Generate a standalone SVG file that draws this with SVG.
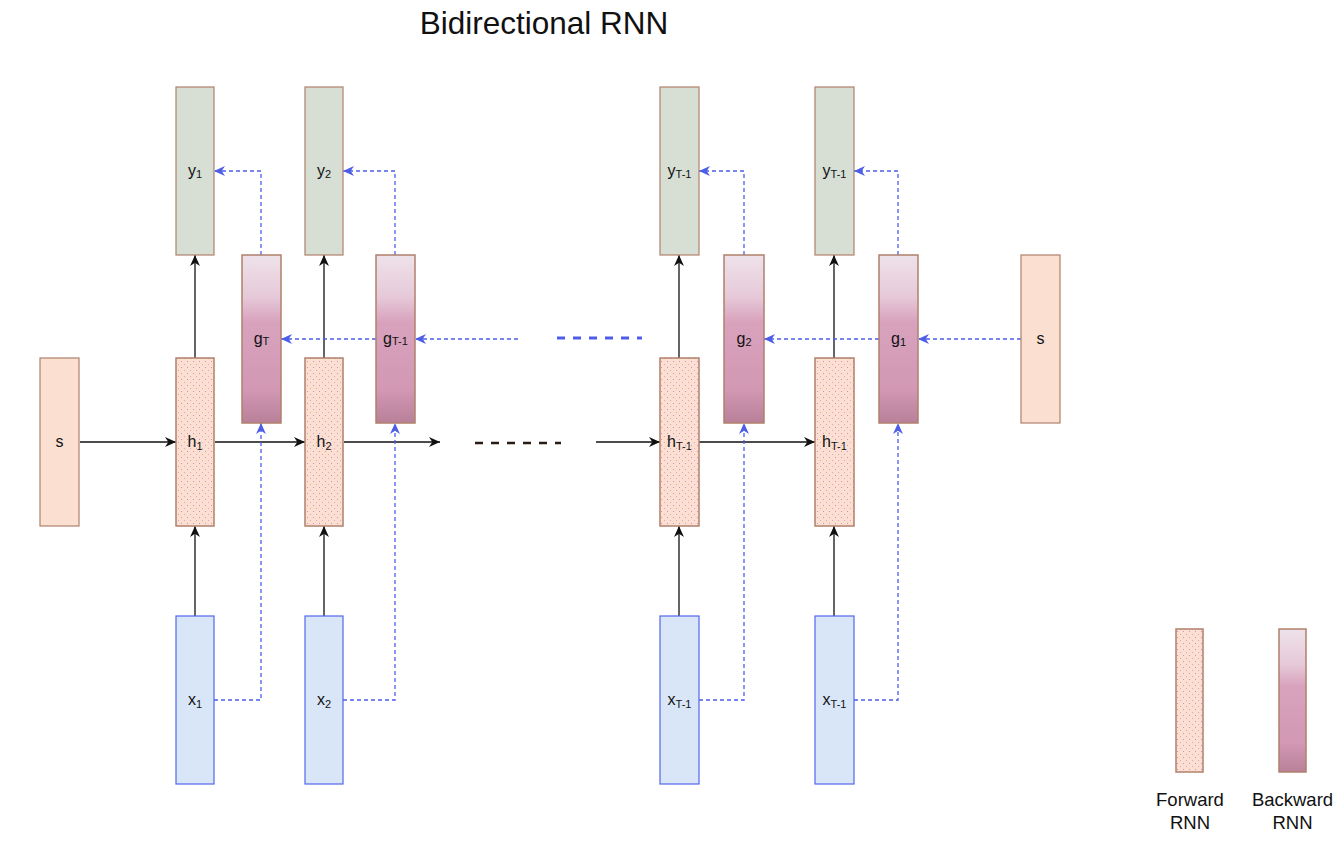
<svg xmlns="http://www.w3.org/2000/svg" width="1344" height="843" viewBox="0 0 1344 843">
<defs>
<style>
text{font-family:"Liberation Sans",Arial,sans-serif;fill:#111}
.lbl{font-size:16px;text-anchor:middle}
.sub{font-size:11px}
.leg{font-size:18.5px;text-anchor:middle}
.ybox{fill:#d7dfd5;stroke:#b0806c;stroke-width:1.2}
.hbox{fill:url(#dots);stroke:#b0806c;stroke-width:1.5}
.sbox{fill:#fbe0d2;stroke:#b0806c;stroke-width:1.2}
.xbox{fill:#d9e6f8;stroke:#5466ee;stroke-width:1.2}
.gbox{fill:url(#gg);stroke:#b0806c;stroke-width:1.5}
.blk{stroke:#111;stroke-width:1.3;fill:none;marker-end:url(#ab)}
.blu{stroke:#4c5ee8;stroke-width:1.3;fill:none;stroke-dasharray:4 3}
.bluA{marker-end:url(#ablue)}
</style>
<marker id="ab" viewBox="0 0 10 10" refX="10" refY="5" markerWidth="11" markerHeight="11" orient="auto" markerUnits="userSpaceOnUse"><path d="M0,0.5 L10,5 L0,9.5 L3,5 z" fill="#111"/></marker>
<marker id="ablue" viewBox="0 0 10 10" refX="10" refY="5" markerWidth="11" markerHeight="11" orient="auto" markerUnits="userSpaceOnUse"><path d="M0,0.5 L10,5 L0,9.5 L3,5 z" fill="#4c5ee8"/></marker>
<pattern id="dots" width="6" height="6" patternUnits="userSpaceOnUse">
<rect width="6" height="6" fill="#fbe0d2"/>
<rect x="1" y="1" width="1" height="1" fill="#d88cc0"/>
<rect x="4" y="4" width="1" height="1" fill="#e3a0c8"/>
</pattern>
<linearGradient id="gg" x1="0" y1="0" x2="0" y2="1">
<stop offset="0" stop-color="#eee2ea"/>
<stop offset="0.25" stop-color="#e6c9d8"/>
<stop offset="0.4" stop-color="#d8a2bd"/>
<stop offset="0.8" stop-color="#d298b4"/>
<stop offset="1" stop-color="#b98099"/>
</linearGradient>
</defs>
<rect width="1344" height="843" fill="#fff"/>
<text x="544" y="34" style="font-size:31.5px;text-anchor:middle">Bidirectional RNN</text>

<g id="connectors">
<line class="blk" x1="80" y1="442" x2="176" y2="442"/>
<line class="blk" x1="215" y1="442" x2="305" y2="442"/>
<line class="blk" x1="344" y1="442" x2="440" y2="442"/>
<line x1="475" y1="443" x2="561" y2="443" stroke="#2a1a14" stroke-width="2.5" stroke-dasharray="8 8"/>
<line class="blk" x1="596" y1="442" x2="660" y2="442"/>
<line class="blk" x1="699" y1="442" x2="815" y2="442"/>
<line class="blk" x1="195" y1="616" x2="195" y2="526"/>
<line class="blk" x1="195" y1="358" x2="195" y2="255"/>
<line class="blk" x1="324" y1="616" x2="324" y2="526"/>
<line class="blk" x1="324" y1="358" x2="324" y2="255"/>
<line class="blk" x1="679" y1="616" x2="679" y2="526"/>
<line class="blk" x1="679" y1="358" x2="679" y2="255"/>
<line class="blk" x1="834" y1="616" x2="834" y2="526"/>
<line class="blk" x1="834" y1="358" x2="834" y2="255"/>
<path class="blu bluA" d="M214,700 H261 V423"/>
<path class="blu bluA" d="M343,700 H395 V423"/>
<path class="blu bluA" d="M699,700 H744 V423"/>
<path class="blu bluA" d="M854,700 H898 V423"/>
<path class="blu bluA" d="M261,255 V171 H214"/>
<path class="blu bluA" d="M395,255 V171 H343"/>
<path class="blu bluA" d="M744,255 V171 H699"/>
<path class="blu bluA" d="M898,255 V171 H854"/>
<line class="blu bluA" x1="376" y1="339" x2="281" y2="339"/>
<line class="blu bluA" x1="518" y1="339" x2="415" y2="339"/>
<line x1="557" y1="338" x2="642" y2="338" stroke="#4c5ee8" stroke-width="3" stroke-dasharray="8 8"/>
<line class="blu bluA" x1="879" y1="339" x2="764" y2="339"/>
<line class="blu bluA" x1="1021" y1="339" x2="918" y2="339"/>
</g>

<g id="s-left"><rect class="sbox" x="40" y="358" width="39" height="168"/><text class="lbl" x="59.5" y="447">s</text></g>
<g id="s-right"><rect class="sbox" x="1021" y="255" width="39" height="168"/><text class="lbl" x="1040.5" y="344">s</text></g>

<g id="y1"><rect class="ybox" x="176" y="87" width="38" height="168"/><text class="lbl" x="195" y="176">y<tspan class="sub" dy="2">1</tspan></text></g>
<g id="y2"><rect class="ybox" x="305" y="87" width="38" height="168"/><text class="lbl" x="324" y="176">y<tspan class="sub" dy="2">2</tspan></text></g>
<g id="y3"><rect class="ybox" x="660" y="87" width="39" height="168"/><text class="lbl" x="679.5" y="176">y<tspan class="sub" dy="2">T-1</tspan></text></g>
<g id="y4"><rect class="ybox" x="815" y="87" width="39" height="168"/><text class="lbl" x="834.5" y="176">y<tspan class="sub" dy="2">T-1</tspan></text></g>

<g id="gT"><rect class="gbox" x="242" y="255" width="39" height="168"/><text class="lbl" x="261.5" y="344">g<tspan class="sub" dy="1">T</tspan></text></g>
<g id="gT1"><rect class="gbox" x="376" y="255" width="39" height="168"/><text class="lbl" x="395.5" y="344">g<tspan class="sub" dy="1">T-1</tspan></text></g>
<g id="g2"><rect class="gbox" x="724" y="255" width="40" height="168"/><text class="lbl" x="744" y="344">g<tspan class="sub" dy="2">2</tspan></text></g>
<g id="g1"><rect class="gbox" x="879" y="255" width="39" height="168"/><text class="lbl" x="898.5" y="344">g<tspan class="sub" dy="2">1</tspan></text></g>

<g id="h1"><rect class="hbox" x="176" y="358" width="38" height="168"/><text class="lbl" x="195" y="447">h<tspan class="sub" dy="3">1</tspan></text></g>
<g id="h2"><rect class="hbox" x="305" y="358" width="38" height="168"/><text class="lbl" x="324" y="447">h<tspan class="sub" dy="3">2</tspan></text></g>
<g id="h3"><rect class="hbox" x="660" y="358" width="39" height="168"/><text class="lbl" x="679.5" y="447">h<tspan class="sub" dy="3">T-1</tspan></text></g>
<g id="h4"><rect class="hbox" x="815" y="358" width="39" height="168"/><text class="lbl" x="834.5" y="447">h<tspan class="sub" dy="3">T-1</tspan></text></g>

<g id="x1"><rect class="xbox" x="176" y="616" width="38" height="168"/><text class="lbl" x="195" y="705">x<tspan class="sub" dy="3">1</tspan></text></g>
<g id="x2"><rect class="xbox" x="305" y="616" width="38" height="168"/><text class="lbl" x="324" y="705">x<tspan class="sub" dy="3">2</tspan></text></g>
<g id="x3"><rect class="xbox" x="660" y="616" width="39" height="168"/><text class="lbl" x="679.5" y="705">x<tspan class="sub" dy="3">T-1</tspan></text></g>
<g id="x4"><rect class="xbox" x="815" y="616" width="39" height="168"/><text class="lbl" x="834.5" y="705">x<tspan class="sub" dy="3">T-1</tspan></text></g>

<g id="legend-forward"><rect class="hbox" x="1176" y="629" width="27" height="143"/><text class="leg" x="1190" y="806">Forward</text><text class="leg" x="1190" y="829">RNN</text></g>
<g id="legend-backward"><rect class="gbox" x="1279" y="629" width="27" height="143"/><text class="leg" x="1292.5" y="806">Backward</text><text class="leg" x="1292.5" y="829">RNN</text></g>
</svg>
